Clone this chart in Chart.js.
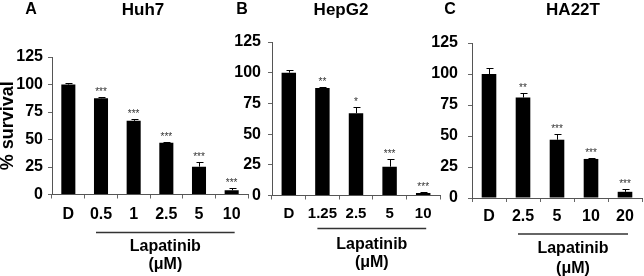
<!DOCTYPE html>
<html>
<head>
<meta charset="utf-8">
<script src="https://cdn.jsdelivr.net/npm/chart.js@4.4.0/dist/chart.umd.min.js"></script>
<style>
body { margin: 0; background: #fff; }
.panel { position: absolute; top: 0; height: 276px; }
</style>
</head>
<body>
<div class="panel" style="left:0;width:250px"><canvas id="chartA"></canvas></div>
<div class="panel" style="left:220px;width:225px"><canvas id="chartB"></canvas></div>
<div class="panel" style="left:420px;width:224px"><canvas id="chartC"></canvas></div>
<script>
// values (% survival, mean and upper error)
var labelsA = ["D", "0.5", "1", "2.5", "5", "10"];
var survivalA = [100, 87.5, 67, 47, 25.3, 3.8];
var errorA = [1, 1.5, 2, 0.5, 3.9, 2.4];
var starsA = ["", "***", "***", "***", "***", "***"];

var labelsB = ["D", "1.25", "2.5", "5", "10"];
var survivalB = [100, 87.5, 67, 23.5, 2];
var errorB = [2, 0.5, 5, 6.2, 0.5];
var starsB = ["", "**", "*", "***", "***"];

var labelsC = ["D", "2.5", "5", "10", "20"];
var survivalC = [100, 81, 47, 31.5, 5];
var errorC = [5, 4, 5, 0.5, 2.5];
var starsC = ["", "**", "***", "***", "***"];

var yTicks = [0, 25, 50, 75, 100, 125];

var FONT = "'Liberation Sans', Arial, sans-serif";

var extras = {
  id: 'extras',
  afterDatasetsDraw: function(chart) {
    var o = chart.options.plugins.extras;
    var ctx = chart.ctx;
    var meta = chart.getDatasetMeta(0);
    var y = chart.scales.y;
    var vals = chart.data.datasets[0].data;
    var area = chart.chartArea;
    ctx.save();
    ctx.strokeStyle = '#000';
    ctx.lineWidth = 1;
    ctx.fillStyle = '#333';
    ctx.font = '10px ' + FONT;
    ctx.textAlign = 'center';
    ctx.textBaseline = 'alphabetic';
    meta.data.forEach(function(bar, i) {
      var x = Math.round(bar.x) + 0.5;
      var top = Math.round(y.getPixelForValue(vals[i] + o.errors[i])) + 0.5;
      ctx.beginPath();
      ctx.moveTo(x, bar.y);
      ctx.lineTo(x, top);
      ctx.moveTo(x - 3, top);
      ctx.lineTo(x + 4, top);
      ctx.stroke();
      if (o.stars[i]) ctx.fillText(o.stars[i], bar.x, top - 3);
    });

    // Lapatinib bracket
    var first = meta.data[1], last = meta.data[meta.data.length - 1];
    var x0 = first.x - 5, x1 = last.x + 3;
    var ly = area.bottom + o.lineDy;
    ctx.strokeStyle = '#333';
    ctx.lineWidth = 1.3;
    ctx.beginPath();
    ctx.moveTo(x0, ly);
    ctx.lineTo(x1, ly);
    ctx.stroke();
    ctx.fillStyle = '#000';
    ctx.font = 'bold 16px ' + FONT;
    ctx.textBaseline = 'middle';
    ctx.fillText('Lapatinib', (x0 + x1) / 2, area.bottom + o.lapDy);
    ctx.fillText('(\u03bcM)', (x0 + x1) / 2, area.bottom + o.unitDy);

    // panel letter and cell line
    ctx.font = 'bold 16px ' + FONT;
    ctx.fillText(o.letter, o.letterX, 10);
    ctx.font = 'bold 17px ' + FONT;
    ctx.fillText(o.title, o.titleX, 10);
    ctx.restore();
  }
};

function makePanel(id, labels, values, errors, stars, opt) {
  return new Chart(document.getElementById(id), {
    type: 'bar',
    data: {
      labels: labels,
      datasets: [{
        data: values,
        backgroundColor: '#000',
        borderWidth: 0,
        barPercentage: 0.43,
        categoryPercentage: 1
      }]
    },
    options: {
      responsive: true,
      maintainAspectRatio: false,
      animation: false,
      layout: { padding: { left: 0, top: opt.top, right: opt.right, bottom: 0 } },
      plugins: {
        legend: { display: false },
        tooltip: { enabled: false },
        extras: {
          errors: errors, stars: stars,
          letter: opt.letter, letterX: opt.letterX,
          title: opt.title, titleX: opt.titleX,
          lineDy: opt.lineDy, lapDy: opt.lapDy, unitDy: opt.unitDy
        }
      },
      scales: {
        x: {
          afterFit: function(s) { s.height = 276 - opt.bottom; },
          grid: { drawOnChartArea: false, drawTicks: true, tickLength: 4, color: '#666', offset: true },
          border: { display: true, color: '#555', width: 1 },
          ticks: {
            color: '#000', padding: opt.xPad, autoSkip: false, maxRotation: 0, minRotation: 0,
            font: { family: FONT, size: opt.xSize, weight: 'bold' }
          }
        },
        y: {
          min: 0,
          max: 125,
          afterFit: function(s) { s.width = opt.yWidth; },
          afterBuildTicks: function(s) { s.ticks = yTicks.map(function(v) { return { value: v }; }); },
          grid: { drawOnChartArea: false, drawTicks: true, tickLength: 4, color: '#666' },
          border: { display: true, color: '#555', width: 1 },
          ticks: { color: '#000', padding: opt.yPad, font: { family: FONT, size: 16, weight: 'bold' } },
          title: {
            display: opt.yTitle,
            text: '% survival',
            color: '#000',
            padding: 0,
            font: { family: FONT, size: 18, weight: 'bold', lineHeight: 0.9 }
          }
        }
      }
    },
    plugins: [extras]
  });
}

makePanel('chartA', labelsA, survivalA, errorA, starsA, {
  top: 57, right: 2, bottom: 194.5, yWidth: 52, yPad: 5, xPad: 6, xSize: 16, yTitle: true,
  letter: 'A', letterX: 31, title: 'Huh7', titleX: 143,
  lineDy: 38, lapDy: 52, unitDy: 70
});
makePanel('chartB', labelsB, survivalB, errorB, starsB, {
  top: 42, right: 5, bottom: 195.5, yWidth: 52, yPad: 7, xPad: 5, xSize: 15, yTitle: false,
  letter: 'B', letterX: 22, title: 'HepG2', titleX: 121,
  lineDy: 33, lapDy: 49, unitDy: 67
});
makePanel('chartC', labelsC, survivalC, errorC, starsC, {
  top: 43, right: 2, bottom: 198, yWidth: 52, yPad: 10, xPad: 5, xSize: 16, yTitle: false,
  letter: 'C', letterX: 30, title: 'HA22T', titleX: 153,
  lineDy: 36, lapDy: 51, unitDy: 71
});
</script>
</body>
</html>
